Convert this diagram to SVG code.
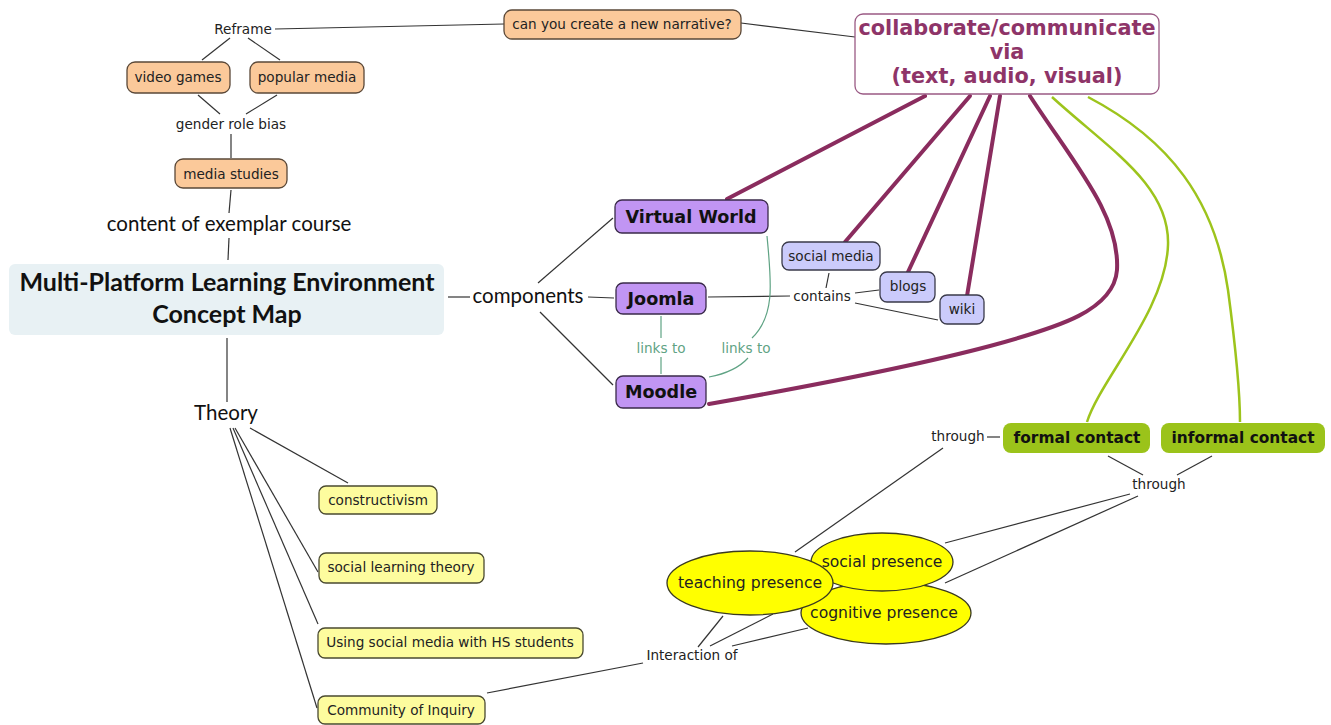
<svg xmlns="http://www.w3.org/2000/svg" width="1331" height="725" viewBox="0 0 1331 725">
<style>
.t{font-family:"DejaVu Sans","Liberation Sans",sans-serif;font-size:13.6px;fill:#222;text-anchor:middle}
.c{font-family:Lato,"Open Sans",sans-serif;font-size:20.5px;fill:#111;text-anchor:middle}
.tb{font-family:"DejaVu Sans","Liberation Sans",sans-serif;font-weight:bold;fill:#111;text-anchor:middle}
.ln{stroke:#333;stroke-width:1.2;fill:none}
.pl{stroke:#8a2c5e;stroke-width:4;fill:none;stroke-linecap:round}
.gl{stroke:#9dc41c;stroke-width:2.5;fill:none}
.lk{stroke:#5fa384;stroke-width:1.2;fill:none}
.or{fill:#fbc99a;stroke:#5a4838;stroke-width:1.3}
.yl{fill:#fdfc9e;stroke:#4a4a30;stroke-width:1.3}
.pu{fill:#c195f3;stroke:#3a2a4a;stroke-width:1.3}
.lv{fill:#cbcbfb;stroke:#3a3a4a;stroke-width:1.3}
.gr{fill:#9bc31a}
.el{fill:#ffff00;stroke:#3a3a20;stroke-width:1.3}
</style>
<rect width="1331" height="725" fill="#fff"/>
<g id="connectors">
  <line class="ln" x1="275" y1="29" x2="504" y2="24"/>
  <line class="ln" x1="741" y1="23" x2="855" y2="37"/>
  <line class="ln" x1="230" y1="38" x2="202" y2="60"/>
  <line class="ln" x1="248" y1="38" x2="280" y2="60"/>
  <line class="ln" x1="198" y1="95" x2="220" y2="114"/>
  <line class="ln" x1="277" y1="95" x2="246" y2="114"/>
  <line class="ln" x1="231" y1="134" x2="231" y2="158"/>
  <line class="ln" x1="231" y1="190" x2="229" y2="213"/>
  <line class="ln" x1="229" y1="238" x2="228" y2="260"/>
  <line class="ln" x1="227" y1="338" x2="227" y2="402"/>
  <line class="ln" x1="250" y1="428" x2="348" y2="483"/>
  <line class="ln" x1="235" y1="428" x2="318" y2="572"/>
  <line class="ln" x1="233" y1="428" x2="318" y2="624"/>
  <line class="ln" x1="230" y1="428" x2="317" y2="708"/>
  <line class="ln" x1="487" y1="693" x2="643" y2="663"/>
  <line class="ln" x1="698" y1="647" x2="723" y2="616"/>
  <line class="ln" x1="710" y1="646" x2="773" y2="614"/>
  <line class="ln" x1="732" y1="646" x2="808" y2="628"/>
  <line class="ln" x1="795" y1="552" x2="943" y2="448"/>
  <line class="ln" x1="987" y1="437" x2="1000" y2="437"/>
  <line class="ln" x1="1108" y1="456" x2="1143" y2="475"/>
  <line class="ln" x1="1212" y1="456" x2="1177" y2="475"/>
  <line class="ln" x1="1130" y1="494" x2="945" y2="543"/>
  <line class="ln" x1="1138" y1="496" x2="945" y2="583"/>
  <line class="ln" x1="448" y1="297" x2="470" y2="297"/>
  <line class="ln" x1="588" y1="297" x2="614" y2="298"/>
  <line class="ln" x1="538" y1="283" x2="613" y2="218"/>
  <line class="ln" x1="540" y1="312" x2="613" y2="385"/>
  <line class="ln" x1="708" y1="297" x2="790" y2="296"/>
  <line class="ln" x1="826" y1="288" x2="829" y2="273"/>
  <line class="ln" x1="855" y1="293" x2="879" y2="290"/>
  <line class="ln" x1="855" y1="303" x2="938" y2="320"/>
  <line class="lk" x1="661" y1="316" x2="661" y2="338"/>
  <line class="lk" x1="661" y1="357" x2="661" y2="374"/>
  <path class="lk" d="M767,236 C771,280 776,315 752,338"/>
  <path class="lk" d="M748,358 C738,369 725,374 709,377"/>
  <line class="pl" x1="925" y1="96" x2="727" y2="199"/>
  <line class="pl" x1="970" y1="96" x2="845" y2="242"/>
  <line class="pl" x1="990" y1="96" x2="908" y2="272"/>
  <line class="pl" x1="1000" y1="96" x2="967" y2="296"/>
  <path class="pl" d="M1030,96 C1075,165 1120,215 1117,270 C1114,310 1060,327 990,346 C900,370 760,395 709,404"/>
  <path class="gl" d="M1052,97 C1110,150 1170,185 1168,245 C1166,310 1100,380 1087,422"/>
  <path class="gl" d="M1088,97 C1170,140 1215,200 1228,290 C1236,350 1240,400 1240,422"/>
  <text class="t" x="661" y="353" style="fill:#5fa384">links to</text>
  <text class="t" x="746" y="353" style="fill:#5fa384">links to</text>
</g>
<g id="reframe"><text class="t" x="243" y="34">Reframe</text></g>
<g id="narrative"><rect class="or" x="504" y="10" width="237" height="29" rx="8"/><text class="t" x="622" y="29">can you create a new narrative?</text></g>
<g id="collab"><rect x="855" y="14" width="304" height="80" rx="8" fill="#fff" stroke="#9a5a84" stroke-width="1.3"/>
<text class="tb" x="1007" y="35" style="font-size:20.8px;fill:#8e3468">collaborate/communicate</text>
<text class="tb" x="1007" y="59" style="font-size:20.8px;fill:#8e3468">via</text>
<text class="tb" x="1007" y="83" style="font-size:20.8px;fill:#8e3468">(text, audio, visual)</text></g>
<g id="video-games"><rect class="or" x="127" y="62" width="103" height="31" rx="8"/><text class="t" x="178" y="82">video games</text></g>
<g id="popular-media"><rect class="or" x="250" y="62" width="114" height="31" rx="8"/><text class="t" x="307" y="82">popular media</text></g>
<g id="gender"><text class="t" x="231" y="129">gender role bias</text></g>
<g id="media-studies"><rect class="or" x="175" y="159" width="112" height="29" rx="8"/><text class="t" x="231" y="179">media studies</text></g>
<g id="content"><text class="c" x="229" y="231">content of exemplar course</text></g>
<g id="main"><rect x="9" y="264" width="435" height="71" rx="6" fill="#e8f1f4"/>
<text class="c" x="227" y="291" style="font-weight:bold;font-size:25px">Multi-Platform Learning Environment</text>
<text class="c" x="227" y="323" style="font-weight:bold;font-size:25px">Concept Map</text></g>
<g id="theory"><text class="c" x="226" y="420">Theory</text></g>
<g id="constructivism"><rect class="yl" x="319" y="486" width="118" height="28" rx="7"/><text class="t" x="378" y="505">constructivism</text></g>
<g id="social-learning"><rect class="yl" x="319" y="553" width="165" height="30" rx="7"/><text class="t" x="401" y="572">social learning theory</text></g>
<g id="using-social"><rect class="yl" x="318" y="628" width="265" height="30" rx="7"/><text class="t" x="450" y="647">Using social media with HS students</text></g>
<g id="coi"><rect class="yl" x="318" y="696" width="167" height="28" rx="7"/><text class="t" x="401" y="715">Community of Inquiry</text></g>
<g id="interaction"><text class="t" x="692" y="660">Interaction of</text></g>
<g id="components"><text class="c" x="528" y="303">components</text></g>
<g id="virtual-world"><rect class="pu" x="615" y="200" width="153" height="33" rx="7"/><text class="tb" x="691" y="223" style="font-size:17.6px">Virtual World</text></g>
<g id="joomla"><rect class="pu" x="616" y="283" width="90" height="31" rx="7"/><text class="tb" x="661" y="305" style="font-size:17.6px">Joomla</text></g>
<g id="moodle"><rect class="pu" x="616" y="376" width="90" height="32" rx="7"/><text class="tb" x="661" y="398" style="font-size:17.6px">Moodle</text></g>
<g id="contains"><text class="t" x="822" y="301">contains</text></g>
<g id="social-media"><rect class="lv" x="782" y="242" width="98" height="28" rx="7"/><text class="t" x="831" y="261">social media</text></g>
<g id="blogs"><rect class="lv" x="880" y="272" width="55" height="30" rx="7"/><text class="t" x="908" y="291">blogs</text></g>
<g id="wiki"><rect class="lv" x="940" y="295" width="44" height="29" rx="7"/><text class="t" x="962" y="314">wiki</text></g>
<g id="through-left"><text class="t" x="958" y="441">through</text></g>
<g id="formal"><rect class="gr" x="1003" y="423" width="147" height="30" rx="8"/><text class="tb" x="1077" y="443" style="font-size:15.4px">formal contact</text></g>
<g id="informal"><rect class="gr" x="1161" y="423" width="164" height="30" rx="8"/><text class="tb" x="1243" y="443" style="font-size:15.4px">informal contact</text></g>
<g id="through-right"><text class="t" x="1159" y="489">through</text></g>
<g id="cognitive"><ellipse class="el" cx="886" cy="613" rx="85" ry="31"/><text class="t" x="884" y="618" style="font-size:15.6px">cognitive presence</text></g>
<g id="social-presence"><ellipse class="el" cx="882" cy="562" rx="71" ry="29"/><text class="t" x="882" y="567" style="font-size:15.6px">social presence</text></g>
<g id="teaching"><ellipse class="el" cx="750" cy="583" rx="83" ry="32"/><text class="t" x="750" y="588" style="font-size:15.6px">teaching presence</text></g>
</svg>
